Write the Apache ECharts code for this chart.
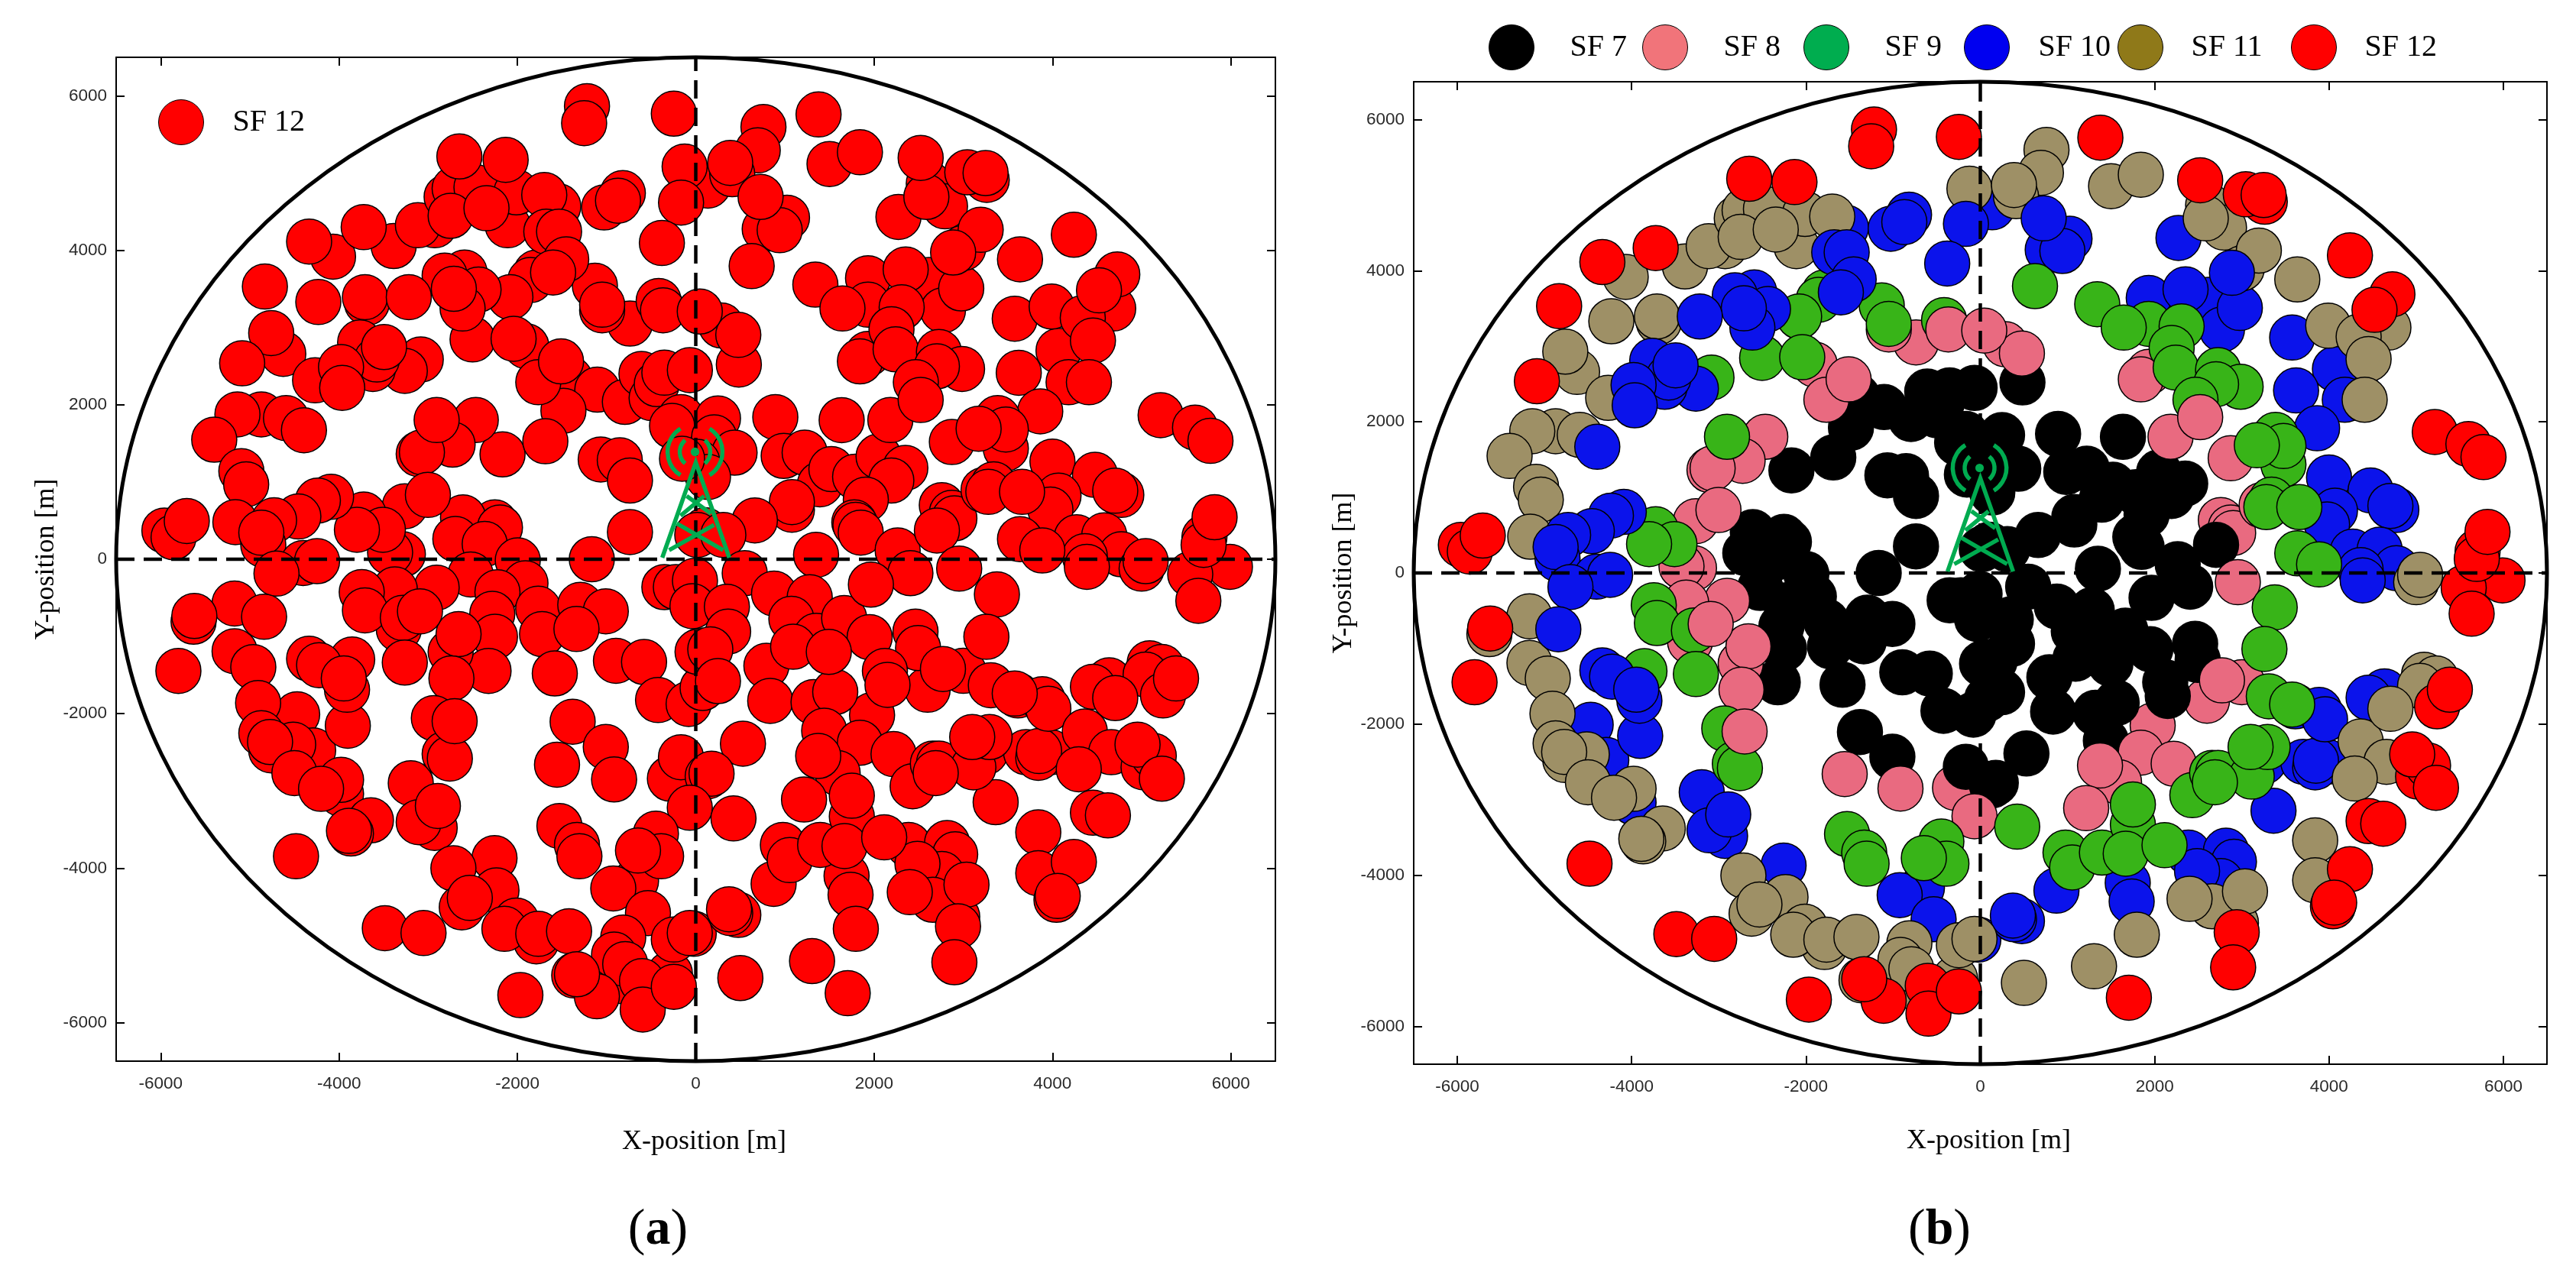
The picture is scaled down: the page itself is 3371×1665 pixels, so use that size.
<!DOCTYPE html>
<html><head><meta charset="utf-8">
<style>html,body{margin:0;padding:0;background:#fff}#c{width:3371px;height:1665px}</style>
<script src="https://cdn.jsdelivr.net/npm/echarts@6/dist/echarts.min.js"></script>
</head><body><div id="c"></div>
<script>
const tickValues = [-6000,-4000,-2000,0,2000,4000,6000];
const legendNames = ['SF 7','SF 8','SF 9','SF 10','SF 11','SF 12'];
const cellBoundary = [[0,0,6500]];
const axisCrossH = [[-6500,0],[6500,0]];
const axisCrossV = [[0,-6500],[0,6500]];
const towerBase = [[0,0]];

const sf7 = [[-1409,2334],[-1104,2196],[-1484,1923],[-795,2038],[-609,2400],[-495,2087],[-437,2268],[-352,2416],[-66,2449],[-166,1841],[-266,1726],[483,2521],
[-2167,1358],[-1687,1528],[-1066,1292],[-852,1282],[-738,1019],[-738,352],[-1166,0],
[249,1824],[206,1578],[435,1380],[17,1262],[137,1065],[-154,1302],[892,1841],[1636,1801],[986,1338],[1221,1380],[1392,970],[1521,1167],[1787,1068],[2050,1331],[2350,1183],[2193,1019],[1907,772],[1078,641],[1078,740],[663,503],[1778,477],[1791,444],[1850,345],[1349,56],[2264,115],[2407,-181],[103,375],[17,315],[309,315],[2704,372],
[-2253,477],[-2610,542],[-2196,411],[-2696,263],[-2367,197],[-1996,-16],
[-2525,-197],[-1910,-312],[-2224,-427],[-2282,-707],[-1767,-641],[-2252,-1003],[-1724,-970],[-1295,-592],[-1009,-674],[-1338,-904],[-2324,-1446],[-1581,-1479],[-895,-1315],[-580,-1331],[-423,-1824],[-80,-1874],[77,-1667],[49,-1183],[20,-1200],[-352,-361],[-223,-361],[-9,-279],[-37,-608],[-1381,-2104],[-1009,-2432],[-166,-2564],[134,-2811],
[549,-181],[878,-444],[349,-615],[363,-937],[1278,-493],[1072,-772],[1350,-993],[1664,-763],[1950,-1009],[1964,-329],[2464,-937],[2493,-1150],[2121,-1446],[2150,-1627],[792,-1381],[163,-1167],[249,-1578],[835,-1834],[1321,-1851],[1564,-1719],[1092,-1134],[1492,-1200],[1440,-2220],[529,-2389],[177,-2777]];

const sf8Low = [[2759,700],[2872,602],[2900,529],[1977,-2019],[-290,-2842],[2600,-1690]];
const sf8 = [[-738,3051],[-1050,3223],[286,3027],[477,2905],[-1900,2758],[-1766,2292],[-1511,2562],[-2467,1802],[-2727,1484],[-3107,1362],[-3071,1386],[-3263,686],[-3004,833],[-3285,64],[-3428,88],
[1932,2660],[1841,2562],[2182,1802],[2872,1518],[3227,896],[2954,-122],[3000,-1445],[2772,-1421],
[-2906,-368],[-3375,-392],[-3330,-907],[-2749,-1200],[-2660,-970],[-2740,-1544],[-1556,-2661],[-916,-2852],[-67,-3219],
[1841,-2377],[2218,-2524],[1591,-2769],[1373,-2548],[1214,-3112]];
const sf8Top = [[-367,3223],[45,3208],[2522,2062],[-3093,-676],[-2704,-2097]];

const sf9 = [[-416,3345],[-1131,3541],[-1050,3296],[-1788,3713],[-1855,3615],[-2079,3394],[-2503,2846],[-2043,2855],[-3084,2586],[-2906,1802],[-3724,578],[-3509,382],[-3800,382],
[627,3796],[1341,3556],[1932,3296],[1645,3247],[2309,3262],[2195,2978],[2241,2718],[2727,2684],[2986,2464],[2704,2498],[2468,2292],[3386,1827],[3477,1435],[3477,1680],[3172,1690],[3341,970],[3281,872],[3659,872],[3636,260],[3886,113],
[-3746,-426],[-3710,-662],[-3285,-760],[-3853,-1299],[-3263,-1338],[-2937,-2058],[-2816,-2524],[-2758,-2582],[-1529,-3455],[-1332,-3700],[-1305,-3847],[-447,-3553],[-389,-3847],[-648,-3773],
[423,-3357],[977,-3700],[1054,-3896],[1395,-3700],[1750,-3332],[1668,-3714],[1750,-3063],[2113,-3602],[2432,-2940],[2659,-2646],[2727,-2646],[3113,-2695],[2691,-2769],[3295,-2303],[3100,-2303],[3377,-456],[3259,-1005],[3309,-1632],[3577,-1740]];

const sf10Low = [[136,4839],[-1542,4570],[1023,4423],[773,4276],[941,4261],[2273,4433],[1932,3639],[2613,3615],[2772,3223],[2354,3752],[2977,3507],[3577,3115],[4068,2699],[3622,2415],[4181,2292],[3863,1915],[4000,1264],[4477,1092],[4772,833],[4704,887],[4068,823],[3977,642],[4272,284],[4581,309],[4772,64],[4363,39],[4386,-98],
[-4470,-2009],[-4291,-2475],[-3978,-3038],[-3196,-2901],[-2928,-3479],[-3107,-3405],[-2892,-3195],[-2257,-3871],[-670,-4165],[-925,-4263],[-536,-4582],
[-23,-4851],[477,-4606],[386,-4582],[373,-4533],[873,-4204],[1691,-4101],[1736,-4346],[2386,-3700],[2818,-3675],[2909,-3822],[2759,-4077],[2486,-3945],[3363,-3146],[3250,-2499],[3704,-2499],[3977,-2499],[3841,-2572],[3850,-2484],[3613,-1764],[3886,-1813],[3954,-1936],[4636,-1568],[4454,-1651]];
const sf10Top = [[-165,4619],[-380,4095],[-818,4741],[-1028,4555],[-872,4643],[-1676,4242],[-1533,4242],[-1453,3884],[-1600,3713],[-2593,3713],[-2816,3674],[-2436,3492],[-2615,3247],[-2713,3502],[-3218,3394],[-3764,2807],[-3263,2439],[-3621,2464],[-3576,2586],[-3496,2748],[-3978,2488],[-3965,2219],[-4394,1670],[-4090,808],[-4238,759],[-4457,553],[-4729,504],[-4850,186],[-4872,343],[-4403,-49],[-4247,-25],[-4702,-186],
[727,4692],[2886,3972],[-4841,-745],[-4336,-1289],[-4224,-1372],[-3902,-2156],[-3911,-1690],[-3947,-1544]];

const sf11 = [[-125,5084],[-4068,3918],[-3388,4056],[-2928,4325],[-3116,4325],[-2794,4692],[-2704,4800],[-2459,4815],[-2110,4325],[-2749,4447],[-2012,4751],[-1699,4717],[-2347,4545],[-4233,3331],[-3688,3321],[-3710,3394],[-4626,2660],[-4761,2929],[-4269,2317],[-4872,1876],[-5140,1876],[-4595,1827],[-5400,1548],[-5096,1141],[-5042,970],[-5163,480],
[759,5598],[695,5295],[409,4986],[386,5133],[1500,5118],[1841,5270],[2613,4864],[2795,4570],[2586,4692],[3000,4031],[3195,4266],[3636,3884],[4681,3247],[3991,3272],[4340,3125],[4454,2831],[4409,2292],[5000,-122],[5045,-25],
[-5632,-809],[-5172,-573],[-5172,-1191],[-4962,-1397],[-4908,-1862],[-4761,-2475],[-4515,-2401],[-4872,-2254],[-4774,-2367],[-4501,-2769],[-3978,-2857],[-4202,-2974],[-3643,-3381],[-3867,-3552],[-3889,-3518],[-2718,-4003],[-2624,-4508],[-2235,-4288],[-2534,-4386],[-2012,-4680],[-1788,-4949],[-2146,-4787],[-1766,-4851],[-1421,-4817],[-1363,-5390],[-814,-4900],[-827,-5464],[-916,-5121],[-791,-5243],[-290,-5366],[-246,-4925],[-67,-4841],
[500,-5424],[1304,-5204],[1795,-4787],[2932,-4630],[2659,-4410],[2400,-4312],[3036,-4214],[3841,-3538],[3841,-4067],[4363,-2230],[4659,-2499],[4295,-2720],[5090,-1347],[5227,-1396],[5045,-1494],[4704,-1798]];

const sf12 = [[-1220,5868],[-1252,5647],[-246,5770],[-2651,5216],[-2132,5172],[-3724,4300],[-4336,4114],[-4832,3531],[-5087,2537],[-5959,372],[-5856,284],[-5708,495],[1377,5760],[2522,5197],[3263,4913],[3045,5011],[3250,5001],[4240,4202],[4727,3688],[4522,3482],[5213,1866],[5599,1705],[5772,1533],[5704,284],[5990,-98],[5545,-196],[5636,-539],[5695,186],[5818,544],[-5623,-735],[-5802,-1446],[-4483,-3847],[-3487,-4778],[-3053,-4841],[-1967,-5645],[-603,-5464],[-1109,-5660],[-595,-5831],[-1332,-5375],[-246,-5537],[5240,-1764],[5386,-1544],[5022,-2695],[5136,-2548],[4954,-2401],[5227,-2842],[4454,-3283],[4622,-3317],[4240,-3920],[4045,-4410],[4059,-4361],[2941,-4753],[2900,-5219],[1704,-5620]];

const pointColors = {sf7:'#000000',sf8:'#E96A80',sf9:'#38B418',sf10:'#0B13EB',sf11:'#9E9066',sf12:'#FF0000'};
const legendColors = ['#000000','#F1747A','#00AD4F','#0000F0','#8F7919','#FF0000'];
const legendLefts = [1948,2149,2360,2570,2771,2998];
const legendPads = [42,42,42,33,32,32];

const SERIF = '"Liberation Serif", serif';
const SANS = '"Liberation Sans", sans-serif';
const GREEN = '#00AB50';

function axisPair(grid, nameTxt, isX, gap){
  const frame = {show:true,onZero:false,lineStyle:{color:'#000',width:2}};
  const tick = {show:true,inside:true,length:11,lineStyle:{color:'#000',width:2},customValues:tickValues};
  const base = {type:'value',gridIndex:grid,min:-6500,max:6500,splitLine:{show:false},axisLine:frame,axisTick:tick};
  return [
    Object.assign({},base,{position:isX?'bottom':'left',name:nameTxt,nameLocation:'middle',nameGap:gap,
      nameTextStyle:{fontFamily:SERIF,fontSize:36,color:'#000',padding:isX?[0,0,0,22]:[0,0,0,0]},
      axisLabel:{show:true,fontFamily:SANS,fontSize:22.5,color:'#2a2a2a',margin:isX?18:12,customValues:tickValues,formatter:function(v){return String(v);}}}),
    Object.assign({},base,{position:isX?'top':'right',axisLabel:{show:false}})
  ];
}
function scatter(name,grid,data,color,z){
  return {type:'scatter',name:name,xAxisIndex:grid*2,yAxisIndex:grid*2,data:data,symbol:'circle',symbolSize:59,z:z,
    itemStyle:{color:color,borderColor:'#000',borderWidth:1.5,opacity:1},emphasis:{disabled:true},silent:true,animation:false,clip:false};
}
function dashed(grid,data){
  return {type:'line',xAxisIndex:grid*2,yAxisIndex:grid*2,data:data,showSymbol:false,z:5,silent:true,animation:false,
    lineStyle:{color:'#000',width:4.5,type:[24,12]}};
}
function boundary(grid){
  return {type:'custom',xAxisIndex:grid*2,yAxisIndex:grid*2,data:cellBoundary,z:5,silent:true,animation:false,clip:false,
    renderItem:function(p,api){
      const c=api.coord([api.value(0),api.value(1)]);
      const s=api.size([api.value(2),api.value(2)]);
      return {type:'ellipse',shape:{cx:c[0],cy:c[1],rx:s[0],ry:s[1]},style:{fill:null,stroke:'#000',lineWidth:5}};
    }};
}
function tower(grid){
  return {type:'custom',xAxisIndex:grid*2,yAxisIndex:grid*2,data:towerBase,z:6,silent:true,animation:false,clip:false,
    renderItem:function(p,api){
      const c=api.coord([api.value(0),api.value(1)]);
      const k=api.size([1000,1000])[1]/101.4;
      const line=(pts)=>({type:'polyline',shape:{points:pts.map(q=>[q[0]*k,q[1]*k])},style:{fill:null,stroke:GREEN,lineWidth:5.5}});
      const arc=(r,a,b)=>({type:'arc',shape:{cx:-1*k,cy:-141*k,r:r*k,startAngle:a*Math.PI/180,endAngle:b*Math.PI/180,clockwise:true},style:{fill:null,stroke:GREEN,lineWidth:5.5}});
      return {type:'group',x:c[0],y:c[1],children:[
        line([[-44,-2],[0,-127],[44,-2]]),
        line([[-35,-12],[24,-45]]),line([[36,-12],[-25,-47]]),
        line([[-20,-57],[11,-83]]),line([[20,-60],[-12,-83]]),
        {type:'circle',shape:{cx:-1*k,cy:-141*k,r:5.7*k},style:{fill:GREEN}},
        arc(20,-50,50),arc(20,130,230),arc(36,-58,58),arc(36,122,238)
      ]};
    }};
}
const sfAll = [].concat(sf8Low,sf7,sf8,sf10Low,sf9,sf8Top,sf11,sf10Top,sf12);

const legends = legendNames.map((n,i)=>({
  left:legendLefts[i],top:32,padding:0,orient:'horizontal',selectedMode:false,icon:'circle',itemWidth:59,itemHeight:60,
  data:[{name:n,itemStyle:{color:legendColors[i],borderColor:'#000',borderWidth:1}}],
  textStyle:{fontFamily:SERIF,fontSize:40,color:'#000',padding:[0,0,0,legendPads[i]]}
}));
legends.push({left:207,top:130,padding:0,selectedMode:false,icon:'circle',itemWidth:59,itemHeight:60,
  data:[{name:'SF 12',itemStyle:{color:'#FF0000',borderColor:'#000',borderWidth:1}}],
  textStyle:{fontFamily:SERIF,fontSize:40,color:'#000',padding:[0,0,0,33]}});

function caption(ch,x){
  return {text:'{p|(}{b|'+ch+'}{p|)}',left:x,top:1572,textAlign:'center',
    textStyle:{fontWeight:'normal',rich:{p:{fontFamily:SERIF,fontSize:68,fontWeight:'normal',color:'#000'},b:{fontFamily:SERIF,fontSize:66,fontWeight:'bold',color:'#000'}}}};
}

const chart = echarts.init(document.getElementById('c'),null,{renderer:'canvas'});
chart.setOption({
  backgroundColor:'#fff',animation:false,
  title:[caption('a',856),caption('b',2533)],
  legend:legends,
  grid:[{left:152,top:75,width:1517,height:1314},{left:1850,top:107,width:1483,height:1286}],
  xAxis:[].concat(axisPair(0,'X-position [m]',true,88),axisPair(1,'X-position [m]',true,83)),
  yAxis:[].concat(axisPair(0,'Y-position [m]',false,62),axisPair(1,'Y-position [m]',false,59)),
  series:[
    scatter('SF 12',0,sfAll,pointColors.sf12,2),
    dashed(0,axisCrossH),dashed(0,axisCrossV),boundary(0),tower(0),
    scatter('SF 8',1,sf8Low,pointColors.sf8,2),
    scatter('SF 7',1,sf7,pointColors.sf7,2),
    scatter('SF 8',1,sf8,pointColors.sf8,2),
    scatter('SF 10',1,sf10Low,pointColors.sf10,2),
    scatter('SF 9',1,sf9,pointColors.sf9,2),
    scatter('SF 8',1,sf8Top,pointColors.sf8,2),
    scatter('SF 11',1,sf11,pointColors.sf11,2),
    scatter('SF 10',1,sf10Top,pointColors.sf10,2),
    scatter('SF 12',1,sf12,pointColors.sf12,2),
    dashed(1,axisCrossH),dashed(1,axisCrossV),boundary(1),tower(1)
  ]
});
</script></body></html>
